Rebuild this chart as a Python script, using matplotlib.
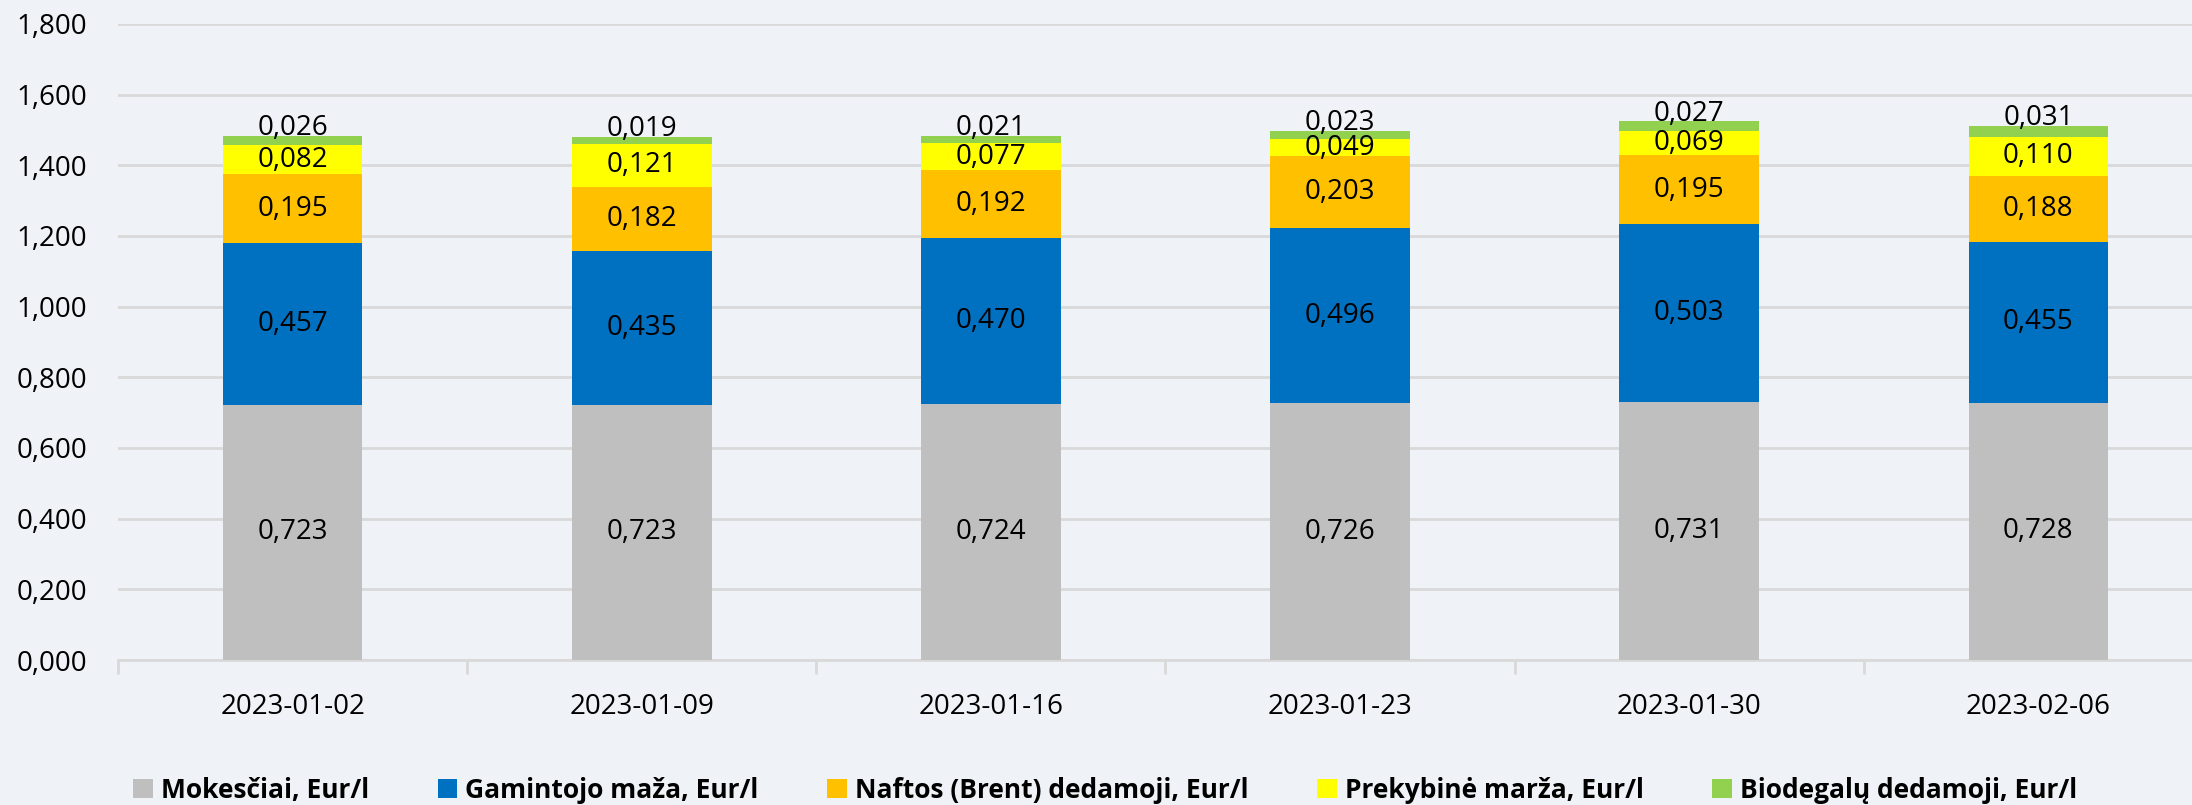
import matplotlib.pyplot as plt
import numpy as np

plt.rcParams['font.family'] = ['Open Sans', 'DejaVu Sans']

dates = ["2023-01-02", "2023-01-09", "2023-01-16", "2023-01-23", "2023-01-30", "2023-02-06"]
mokesciai = [0.723, 0.723, 0.724, 0.726, 0.731, 0.728]
gamintojo = [0.457, 0.435, 0.470, 0.496, 0.503, 0.455]
naftos = [0.195, 0.182, 0.192, 0.203, 0.195, 0.188]
prekybine = [0.082, 0.121, 0.077, 0.049, 0.069, 0.110]
biodegalu = [0.026, 0.019, 0.021, 0.023, 0.027, 0.031]

series = [
    ("Mokesčiai, Eur/l", mokesciai, "#BFBFBF"),
    ("Gamintojo maža, Eur/l", gamintojo, "#0070C0"),
    ("Naftos (Brent) dedamoji, Eur/l", naftos, "#FFC000"),
    ("Prekybinė marža, Eur/l", prekybine, "#FFFF00"),
    ("Biodegalų dedamoji, Eur/l", biodegalu, "#92D050"),
]

bg = "#EFF3F7"
grid_c = "#D9D9D9"

def fmt(v):
    return f"{v:.3f}".replace(".", ",")

fig = plt.figure(figsize=(21.92, 8.05), dpi=100, facecolor=bg)
ax = fig.add_axes([118 / 2192, 145 / 805, 2095 / 2192, 636 / 805])
ax.set_facecolor(bg)

x = np.arange(len(dates))
bottom = np.zeros(len(dates))
handles = []
for i, (name, vals, col) in enumerate(series):
    vals = np.array(vals)
    b = ax.bar(x, vals, 0.4, bottom=bottom, color=col, label=name, zorder=3)
    handles.append(b)
    for xi, v, bt in zip(x, vals, bottom):
        if i == len(series) - 1:
            # tunn segmentas - etiketė virš stulpelio
            ax.annotate(fmt(v), (xi, bt + v), xytext=(0, 5.5), textcoords="offset points",
                        ha="center", va="center", fontsize=20, zorder=4)
        else:
            ax.text(xi, bt + v / 2, fmt(v), ha="center", va="center", fontsize=20, zorder=4)
    bottom += vals

ax.set_xlim(-0.5, len(dates) - 0.5)
ax.set_ylim(0, 1.8)
yt = np.arange(0, 1.81, 0.2)
ax.set_yticks(yt)
ax.set_yticklabels([fmt(v) for v in yt], fontsize=20)
ax.tick_params(axis="y", length=0, pad=22)
ax.yaxis.grid(True, color=grid_c, linewidth=2, zorder=0)

ax.set_xticks(x)
ax.set_xticklabels(dates, fontsize=20)
ax.set_xticks(np.arange(-0.5, len(dates)), minor=True)
ax.tick_params(axis="x", which="major", length=0, pad=24)
ax.tick_params(axis="x", which="minor", length=10, width=2, color=grid_c)

for s in ["top", "right", "left"]:
    ax.spines[s].set_visible(False)
ax.spines["bottom"].set_color(grid_c)
ax.spines["bottom"].set_linewidth(2)

leg = fig.legend(handles=handles, loc="center", bbox_to_anchor=(1105 / 2192, 15 / 805),
                 ncol=5, frameon=False, handlelength=0.75, handleheight=0.75,
                 handletextpad=0.3, columnspacing=2.6,
                 prop={"family": "Open Sans", "weight": "bold", "size": 19})

fig.savefig("out.png", dpi=100, facecolor=bg)
